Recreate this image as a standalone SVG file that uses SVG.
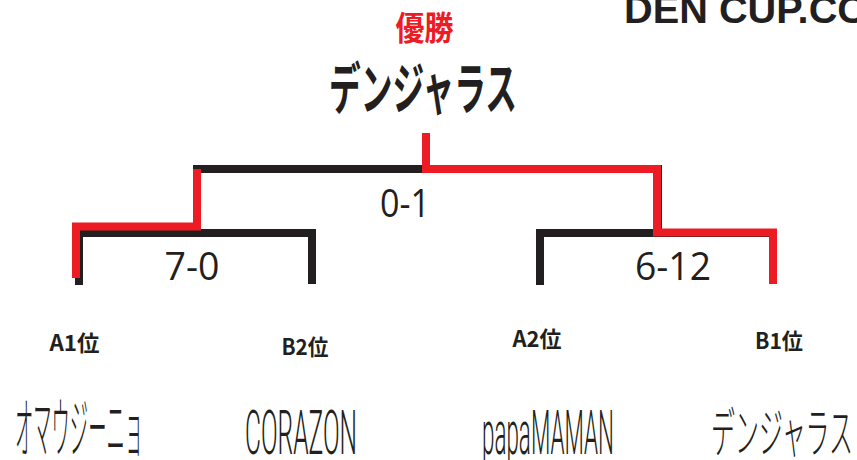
<svg xmlns="http://www.w3.org/2000/svg" width="857" height="460" viewBox="0 0 857 460">
<style>
.ln{fill:none;stroke-width:8;stroke-linejoin:miter;stroke-linecap:butt}
.blk{stroke:#231f20}
.red{stroke:#ed1c24}
.cjk{font-family:"Noto Sans CJK JP","Liberation Sans",sans-serif}
.lab{font-family:"Noto Sans CJK JP","Liberation Sans",sans-serif;font-weight:bold;font-size:22px;fill:#231f20;text-anchor:middle}
.score{font-family:"Open Sans","Liberation Sans",sans-serif;font-size:39px;fill:#231f20;text-anchor:middle}
.team{font-weight:300;fill:#231f20;text-anchor:middle}
</style>
<rect width="857" height="460" fill="#fff"/>
<g id="connectors">
<path class="ln blk" d="M197,233 V169 H658 V233"/>
<path class="ln blk" d="M79,285 V233 H312 V284"/>
<path class="ln blk" d="M540,285 V233 H773 V284"/>
<path class="ln red" d="M426,133 V169 H657 V232.5 H773 V284"/>
<path class="ln red" d="M197,169 V226.5 H76 V278"/>
</g>
<g id="header">
<text x="624" y="23" font-family="Liberation Sans, sans-serif" font-weight="bold" font-size="38" fill="#231f20" textLength="242" lengthAdjust="spacingAndGlyphs">DEN CUP.CC</text>
</g>
<g id="champion">
<text class="cjk" x="424.5" y="40" font-size="33" font-weight="bold" fill="#ed1c24" text-anchor="middle" textLength="58" lengthAdjust="spacingAndGlyphs">優勝</text>
<text class="cjk" x="423" y="109" font-size="56" font-weight="bold" fill="#231f20" text-anchor="middle" textLength="188" lengthAdjust="spacingAndGlyphs">デンジャラス</text>
</g>
<g id="scores">
<text class="score" x="405" y="216.5" textLength="50" lengthAdjust="spacingAndGlyphs">0-1</text>
<text class="score" x="192" y="280" textLength="55" lengthAdjust="spacingAndGlyphs">7-0</text>
<text class="score" x="673" y="280" textLength="76" lengthAdjust="spacingAndGlyphs">6-12</text>
</g>
<g id="team-a1">
<text class="lab" x="74.5" y="351" textLength="50" lengthAdjust="spacingAndGlyphs">A1位</text>
<text class="cjk team" x="79" y="452" font-size="66" textLength="128" lengthAdjust="spacingAndGlyphs">オマウジーニョ</text>
</g>
<g id="team-b2">
<text class="lab" x="305" y="355" textLength="47" lengthAdjust="spacingAndGlyphs">B2位</text>
<text class="team" x="301" y="454" font-family="Roboto, Liberation Sans, sans-serif" font-size="62" textLength="112" lengthAdjust="spacingAndGlyphs">CORAZON</text>
</g>
<g id="team-a2">
<text class="lab" x="537" y="347" textLength="49" lengthAdjust="spacingAndGlyphs">A2位</text>
<text class="team" x="548" y="454" font-family="Roboto, Liberation Sans, sans-serif" font-size="62" textLength="132" lengthAdjust="spacingAndGlyphs">papaMAMAN</text>
</g>
<g id="team-b1">
<text class="lab" x="779" y="349" textLength="48" lengthAdjust="spacingAndGlyphs">B1位</text>
<text class="cjk team" x="782" y="453" font-size="54" textLength="142" lengthAdjust="spacingAndGlyphs">デンジャラス</text>
</g>
</svg>
